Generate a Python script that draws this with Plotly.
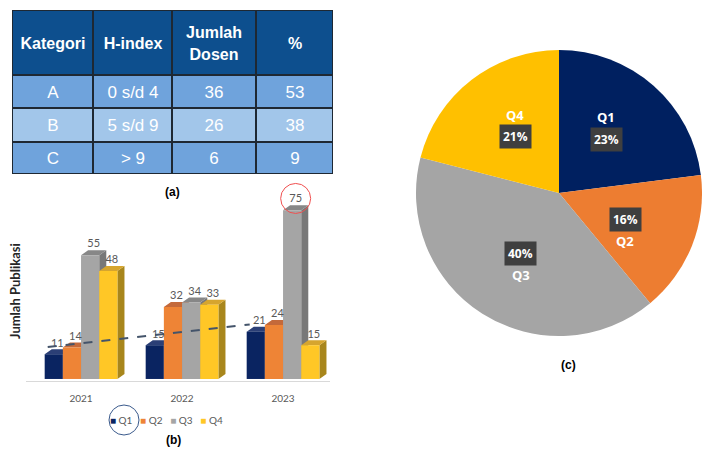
import numpy as np
import plotly.graph_objects as go

# (a) tabel kategori dosen
tbl_header = ["Kategori", "H-index", "Jumlah<br>Dosen", "%"]
kategori = ["A", "B", "C"]
h_index = ["0 s/d 4", "5 s/d 9", "> 9"]
jumlah_dosen = [36, 26, 6]
persen_dosen = [53, 38, 9]

# (b) jumlah publikasi per tahun dan kuartil
years = ["2021", "2022", "2023"]
quartiles = ["Q1", "Q2", "Q3", "Q4"]
pub_q1 = [11, 15, 21]
pub_q2 = [14, 32, 24]
pub_q3 = [55, 34, 75]
pub_q4 = [48, 33, 15]

# (c) proporsi kuartil (%)
pie_pct = [23, 16, 40, 21]

W, H = 702, 451


def px(x):
    return x / W


def py(y):
    return 1 - y / H


front = ["#0a2461", "#ee8436", "#a5a5a5", "#ffc726"]
top = ["#2b3f76", "#c4693a", "#878787", "#d6a52e"]
side = ["#00143c", "#b0561c", "#787878", "#a8861c"]
pie_colors = ["#002060", "#ed7d31", "#a5a5a5", "#ffc000"]

fig = go.Figure()

# ---- (a) table as heatmap cells
col_w = [81, 79, 84, 77]
row_h = [65, 33, 34, 32]
x_edges = np.concatenate([[0], np.cumsum(col_w)])
y_edges = np.concatenate([[0], np.cumsum(row_h)])
cell_text = [["<b><span style='font-size:16px'>%s</span></b>" % h for h in tbl_header]]
for k, h, j, p in zip(kategori, h_index, jumlah_dosen, persen_dosen):
    cell_text.append([k, h, str(j), str(p)])
shade = [[0] * 4] + [[1 + i % 2] * 4 for i in range(len(kategori))]

fig.add_trace(go.Heatmap(
    x=x_edges, y=y_edges, z=shade, text=cell_text, texttemplate="%{text}",
    textfont=dict(family="Liberation Sans", size=17, color="white"),
    colorscale=[[0, "#0d4f8e"], [0.5, "#6fa3dc"], [1, "#a2c6ea"]],
    zmin=0, zmax=2, showscale=False, xgap=2, ygap=2, hoverinfo="skip",
    xaxis="x2", yaxis="y2",
))

# ---- (b) pseudo-3D bars
series = [pub_q1, pub_q2, pub_q3, pub_q4]
w, dx, dy = 0.18, 0.07, 2.2

# back faces (side + top) on the base axes
for k, vals in enumerate(series):
    sx, sy, tx, ty = [], [], [], []
    for i, v in enumerate(vals):
        x0 = i + (k - 2) * w
        x1 = x0 + w
        sx += [x1, x1 + dx, x1 + dx, x1, x1, None]
        sy += [0, dy, v + dy, v, 0, None]
        tx += [x0, x0 + dx, x1 + dx, x1, x0, None]
        ty += [v, v + dy, v + dy, v, v, None]
    fig.add_trace(go.Scatter(x=sx, y=sy, fill="toself", fillcolor=side[k], mode="lines",
                             line=dict(width=0, color=side[k]), showlegend=False, hoverinfo="skip"))
    fig.add_trace(go.Scatter(x=tx, y=ty, fill="toself", fillcolor=top[k], mode="lines",
                             line=dict(width=0, color=top[k]), showlegend=False, hoverinfo="skip"))

# front faces on the overlay axes
for k, (q, vals) in enumerate(zip(quartiles, series)):
    fig.add_trace(go.Bar(x=list(range(len(years))), y=vals, width=w, offset=(k - 2) * w,
                         name=q, marker=dict(color=front[k], line=dict(width=0)),
                         showlegend=False, xaxis="x3", yaxis="y3"))

for k, vals in enumerate(series):
    fig.add_trace(go.Scatter(
        x=[i + (k - 1.5) * w + dx / 2 for i in range(len(vals))],
        y=[v + dy for v in vals], text=[str(v) for v in vals],
        mode="text", textposition="top center", cliponaxis=False,
        textfont=dict(family="Lato", size=11, color="#595959"),
        showlegend=False, hoverinfo="skip", xaxis="x3", yaxis="y3"))

# linear trend of Q1
slope, intercept = np.polyfit(range(len(pub_q1)), pub_q1, 1)
tr_x = [0, len(years) - 1]
fig.add_trace(go.Scatter(
    x=[i - 1.5 * w - 0.06 for i in tr_x],
    y=[intercept + slope * i + 1.6 * dy for i in tr_x],
    mode="lines", line=dict(color="#44546a", width=2, dash="dash"),
    showlegend=False, hoverinfo="skip", xaxis="x3", yaxis="y3"))

# ---- (c) pie
fig.add_trace(go.Pie(
    labels=quartiles, values=pie_pct, sort=False, direction="clockwise",
    marker=dict(colors=pie_colors, line=dict(width=0)), textinfo="none",
    domain=dict(x=[px(416), 1], y=[py(336), py(50)]), showlegend=False,
))

pie_cx, pie_cy, pie_r = 559, 193, 143
cum = np.cumsum(pie_pct)
mid = (cum - np.array(pie_pct) / 2) / cum[-1] * 2 * np.pi
annotations = []
for q, p, th in zip(quartiles, pie_pct, mid):
    bx = pie_cx + 0.5 * pie_r * np.sin(th)
    by = pie_cy - 0.5 * pie_r * np.cos(th)
    ny = by - 22 if np.cos(th) > 0 else by + 22
    annotations.append(dict(x=px(bx), y=py(by), text="<b>%d%%</b>" % p,
                            bgcolor="#3f3f3f", borderpad=3,
                            font=dict(family="Open Sans", size=12, color="white")))
    annotations.append(dict(x=px(bx), y=py(ny), text="<b>%s</b>" % q,
                            font=dict(family="Open Sans", size=13, color="white")))

# compact legend for (b)
legend_txt = "&nbsp;&nbsp;&nbsp;".join(
    "<span style='color:%s'>■</span>&nbsp;%s" % (c, q) for c, q in zip(front, quartiles))

annotations += [
    dict(x=px(15), y=py(291), textangle=-90, text="<b>Jumlah Publikasi</b>",
         font=dict(family="Lato", size=13, color="#262626")),
    dict(x=px(166), y=py(420), text=legend_txt,
         font=dict(family="Lato", size=10, color="#595959")),
    dict(x=px(172), y=py(192), text="<b>(a)</b>",
         font=dict(family="Liberation Sans", size=12, color="black")),
    dict(x=px(173), y=py(440), text="<b>(b)</b>",
         font=dict(family="Liberation Sans", size=12, color="black")),
    dict(x=px(568), y=py(365), text="<b>(c)</b>",
         font=dict(family="Liberation Sans", size=12, color="black")),
]
for a in annotations:
    a.update(xref="paper", yref="paper", showarrow=False, xanchor="center", yanchor="middle")

shapes = [
    # dark grid behind the table cells
    dict(type="rect", xref="x2", yref="y2", x0=-1.5, x1=x_edges[-1] + 1.5,
         y0=-1.5, y1=y_edges[-1] + 1.5, fillcolor="#1e2833", line=dict(width=0), layer="below"),
    # red circle around the 2023 Q3 value
    dict(type="circle", xref="x3", yref="y3", xsizemode="pixel", ysizemode="pixel",
         xanchor=2 + 0.5 * w + dx / 2, yanchor=max(pub_q3) + dy + 3,
         x0=-15, x1=15, y0=-15, y1=15, line=dict(color="#f05050", width=1)),
    # blue circle around Q1 legend entry
    dict(type="circle", xref="paper", yref="paper", x0=px(109), x1=px(139),
         y0=py(435), y1=py(405), line=dict(color="#3a5a8c", width=1)),
]

xr = [-0.545, 2.465]
yr = [-0.9, 88.4]
fig.update_layout(
    width=W, height=H, margin=dict(l=0, r=0, t=0, b=0),
    paper_bgcolor="white", plot_bgcolor="rgba(0,0,0,0)",
    barmode="overlay", showlegend=False,
    xaxis=dict(domain=[px(26), px(330)], range=xr, tickvals=list(range(len(years))),
               ticktext=years, showline=True, linecolor="#d9d9d9", linewidth=1, ticks="",
               showgrid=False, zeroline=False, ticklabelstandoff=8,
               tickfont=dict(family="Lato", size=10, color="#595959"), fixedrange=True),
    yaxis=dict(domain=[py(381), py(180)], range=yr, visible=False, fixedrange=True),
    xaxis3=dict(overlaying="x", range=xr, visible=False, fixedrange=True),
    yaxis3=dict(overlaying="y", range=yr, visible=False, fixedrange=True),
    xaxis2=dict(domain=[px(12), px(333)], range=[0, x_edges[-1]], visible=False, fixedrange=True),
    yaxis2=dict(domain=[py(174), py(10)], range=[y_edges[-1], 0], visible=False, fixedrange=True),
    annotations=annotations, shapes=shapes,
)

fig.write_html("out.html", config={"displayModeBar": False},
               post_script="document.body.style.margin='0px';")
